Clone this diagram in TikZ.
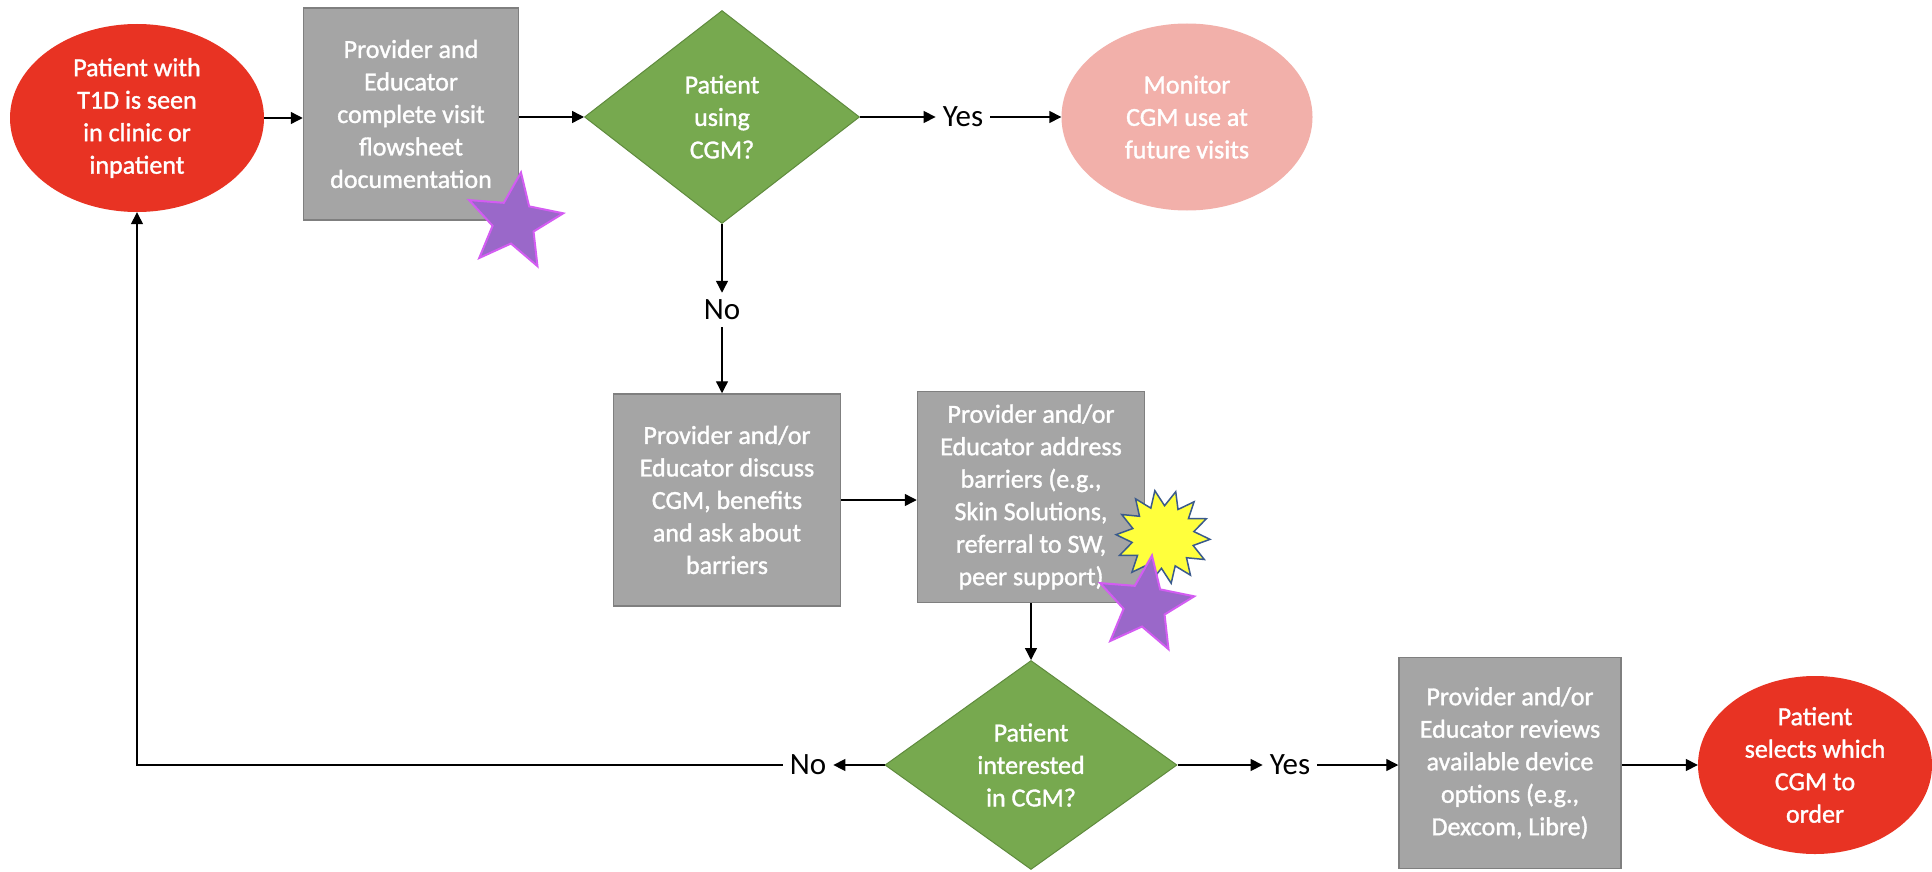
\documentclass[tikz,border=0pt]{standalone}
\usepackage{fontspec}
\setmainfont{Carlito}
\newfontfamily\flowfont{Carlito}[FakeBold=1.3]
\usetikzlibrary{shapes.geometric,arrows.meta}
\definecolor{FlowRed}{HTML}{E83323}
\definecolor{FlowPink}{HTML}{F2B0AA}
\definecolor{FlowGray}{HTML}{A5A5A5}
\definecolor{FlowGrayLine}{HTML}{7F7F7F}
\definecolor{FlowGreen}{HTML}{77A94F}
\definecolor{FlowGreenLine}{HTML}{5F8B3D}
\definecolor{StarPurple}{HTML}{9A68C9}
\definecolor{StarEdge}{HTML}{D35CF2}
\definecolor{BurstYellow}{HTML}{FFFF3C}
\definecolor{BurstEdge}{HTML}{3A5A8C}

\begin{document}
\begin{tikzpicture}[x=1pt,y=-1pt,
  boxtext/.style={text=white,align=center,font=\flowfont\fontsize{26}{32.5}\selectfont,inner sep=0pt},
  procbox/.style={boxtext,rectangle,fill=FlowGray,draw=FlowGrayLine,line width=1.5pt},
  decision/.style={boxtext,diamond,fill=FlowGreen,draw=FlowGreenLine,line width=1pt},
  terminal/.style={boxtext,ellipse,fill=FlowRed,draw=none},
  answer/.style={font=\fontsize{31}{36}\selectfont,inner sep=7pt},
  flowarrow/.style={-{Triangle[length=12pt,width=12pt]},line width=1.4pt},
  purplestar/.style={star,star points=5,star point ratio=2.3,minimum size=100pt,fill=StarPurple,draw=StarEdge,line width=2pt},
  burst/.style={star,star points=14,star point ratio=1.5,minimum size=94pt,fill=BurstYellow,draw=BurstEdge,line width=1.5pt}]
  \useasboundingbox[fill=white] (0,0) rectangle (1932,872);

  \node[terminal,minimum width=254pt,minimum height=188pt] (seen) at (137,118)
    {Patient with\\T1D is seen\\in clinic or\\inpatient};
  \node[procbox,minimum width=215pt,minimum height=212pt] (flowsheet) at (411,114)
    {Provider and\\Educator\\complete visit\\flowsheet\\documentation};
  \node[decision,minimum width=275pt,minimum height=213pt] (usingcgm) at (722,117)
    {Patient\\using\\CGM?};
  \node[answer] (yesusing) at (963,117) {Yes};
  \node[terminal,fill=FlowPink,minimum width=251pt,minimum height=187pt] (monitor) at (1187,117)
    {Monitor\\CGM use at\\future visits};
  \node[answer] (nousing) at (722,310) {No};

  \node[procbox,minimum width=227pt,minimum height=212pt] (discuss) at (727,500)
    {Provider and/or\\Educator discuss\\CGM, benefits\\and ask about\\barriers};
  \node[procbox,minimum width=227pt,minimum height=211pt] (barriers) at (1031,497)
    {Provider and/or\\Educator address\\barriers (e.g.,\\Skin Solutions,\\referral to SW,\\peer support)};

  \node[decision,minimum width=292pt,minimum height=209pt] (interested) at (1031,765)
    {Patient\\interested\\in CGM?};
  \node[answer] (nointerest) at (808,765) {No};
  \node[answer] (yesinterest) at (1290,765) {Yes};
  \node[procbox,minimum width=222pt,minimum height=211pt] (reviews) at (1510,763)
    {Provider and/or\\Educator reviews\\available device\\options (e.g.,\\Dexcom, Libre)};
  \node[terminal,minimum width=234pt,minimum height=178pt] (selects) at (1815,765)
    {Patient\\selects which\\CGM to\\order};

  \node[purplestar,rotate=-8] (starone) at (514,222) {};
  \node[burst,rotate=10] (burstone) at (1163,537) {};
  \node[purplestar,rotate=-8] (startwo) at (1145,605) {};

  \draw[flowarrow] (seen.east) -- (seen.east -| flowsheet.west);
  \draw[flowarrow] (flowsheet.east |- usingcgm.west) -- (usingcgm.west);
  \draw[flowarrow] (usingcgm.east) -- (yesusing.west);
  \draw[flowarrow] (yesusing.east) -- (yesusing.east -| monitor.west);
  \draw[flowarrow] (usingcgm.south) -- (nousing.north);
  \draw[flowarrow] (nousing.south) -- (nousing.south |- discuss.north);
  \draw[flowarrow] (discuss.east) -- (discuss.east -| barriers.west);
  \draw[flowarrow] (barriers.south) -- (interested.north);
  \draw[flowarrow] (interested.west) -- (nointerest.east);
  \draw[flowarrow] (nointerest.west) -- (nointerest.west -| seen.south) -- (seen.south);
  \draw[flowarrow] (interested.east) -- (yesinterest.west);
  \draw[flowarrow] (yesinterest.east) -- (yesinterest.east -| reviews.west);
  \draw[flowarrow] (reviews.east |- selects.west) -- (selects.west);
\end{tikzpicture}
\end{document}
